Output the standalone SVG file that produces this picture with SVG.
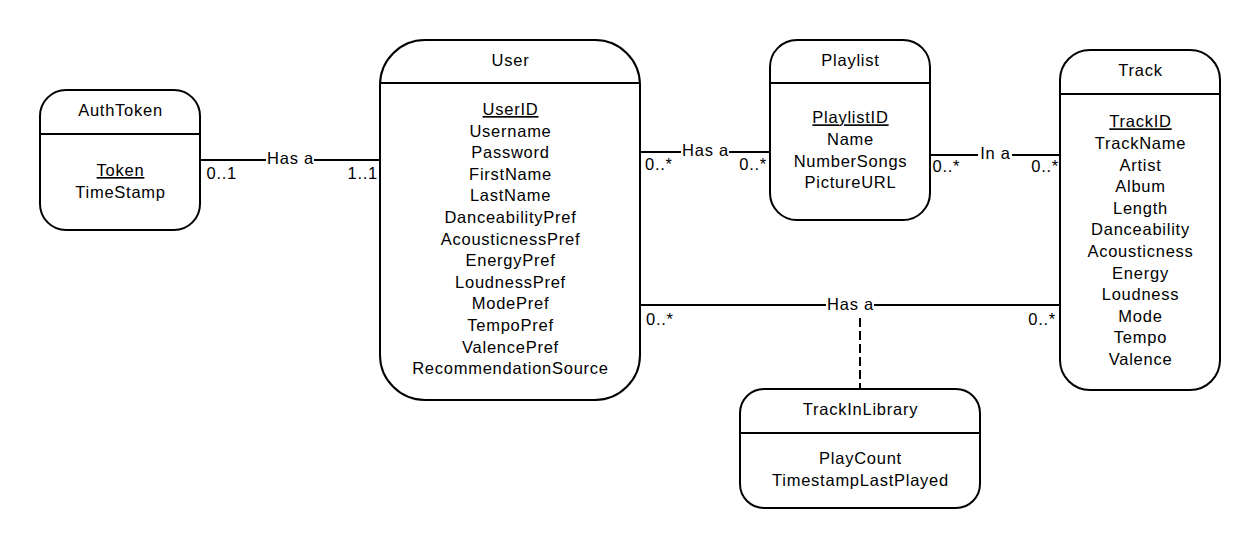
<svg xmlns="http://www.w3.org/2000/svg" width="1260" height="549" viewBox="0 0 1260 549">
<style>
.box{fill:#fff;stroke:#000;stroke-width:2}
.div{stroke:#000;stroke-width:2}
.ln{stroke:#000;stroke-width:2;fill:none}
.dash{stroke:#000;stroke-width:2;fill:none;stroke-dasharray:9 4}
text{font-family:"Liberation Sans",Arial,sans-serif;font-size:16.5px;letter-spacing:0.75px;fill:#000}
.c{text-anchor:middle}
.e{text-anchor:end}
.pk{text-decoration:underline}
.bg{fill:#fff}
</style>
<rect width="1260" height="549" fill="#fff"/>
<g id="connectors">
<line class="ln" x1="200" y1="160" x2="380" y2="160"/>
<rect class="bg" x="266" y="149" width="48" height="20"/>
<text class="c" x="290.5" y="163.5">Has a</text>
<text x="206.5" y="179">0..1</text>
<text class="e" x="378" y="179">1..1</text>

<line class="ln" x1="640" y1="152" x2="770" y2="152"/>
<rect class="bg" x="681" y="141" width="48" height="20"/>
<text class="c" x="705.5" y="155.5">Has a</text>
<text x="645" y="170">0..*</text>
<text class="e" x="767" y="170">0..*</text>

<line class="ln" x1="930" y1="155" x2="1060" y2="155"/>
<rect class="bg" x="978" y="144" width="34" height="20"/>
<text class="c" x="995.5" y="158.5">In a</text>
<text x="932.5" y="171.5">0..*</text>
<text class="e" x="1059" y="171.5">0..*</text>

<line class="ln" x1="640" y1="305" x2="1060" y2="305"/>
<rect class="bg" x="826" y="294" width="48" height="20"/>
<text class="c" x="850.5" y="309.5">Has a</text>
<text x="646" y="325">0..*</text>
<text class="e" x="1056" y="325">0..*</text>

<line class="dash" x1="860" y1="318" x2="860" y2="389"/>
</g>

<g id="AuthToken">
<rect class="box" x="40" y="90" width="160" height="140" rx="26" ry="26"/>
<line class="div" x1="40" y1="134" x2="200" y2="134"/>
<text class="c" x="120.5" y="116">AuthToken</text>
<text class="c pk" x="120.5" y="176">Token</text>
<text class="c" x="120.5" y="197.5">TimeStamp</text>
</g>

<g id="User">
<rect class="box" x="380" y="40" width="260" height="360" rx="45" ry="45"/>
<line class="div" x1="380" y1="83" x2="640" y2="83"/>
<text class="c" x="510.5" y="66">User</text>
<text class="c pk" x="510.5" y="115">UserID</text>
<text class="c" x="510.5" y="136.6">Username</text>
<text class="c" x="510.5" y="158.2">Password</text>
<text class="c" x="510.5" y="179.8">FirstName</text>
<text class="c" x="510.5" y="201.4">LastName</text>
<text class="c" x="510.5" y="223">DanceabilityPref</text>
<text class="c" x="510.5" y="244.6">AcousticnessPref</text>
<text class="c" x="510.5" y="266.2">EnergyPref</text>
<text class="c" x="510.5" y="287.8">LoudnessPref</text>
<text class="c" x="510.5" y="309.4">ModePref</text>
<text class="c" x="510.5" y="331">TempoPref</text>
<text class="c" x="510.5" y="352.6">ValencePref</text>
<text class="c" x="510.5" y="374.2">RecommendationSource</text>
</g>

<g id="Playlist">
<rect class="box" x="770" y="40" width="160" height="180" rx="27" ry="27"/>
<line class="div" x1="770" y1="83" x2="930" y2="83"/>
<text class="c" x="850.5" y="66">Playlist</text>
<text class="c pk" x="850.5" y="123.3">PlaylistID</text>
<text class="c" x="850.5" y="144.9">Name</text>
<text class="c" x="850.5" y="166.5">NumberSongs</text>
<text class="c" x="850.5" y="188.1">PictureURL</text>
</g>

<g id="Track">
<rect class="box" x="1060" y="50" width="160" height="340" rx="30" ry="30"/>
<line class="div" x1="1060" y1="94" x2="1220" y2="94"/>
<text class="c" x="1140.5" y="75.5">Track</text>
<text class="c pk" x="1140.5" y="127.3">TrackID</text>
<text class="c" x="1140.5" y="148.9">TrackName</text>
<text class="c" x="1140.5" y="170.5">Artist</text>
<text class="c" x="1140.5" y="192.1">Album</text>
<text class="c" x="1140.5" y="213.7">Length</text>
<text class="c" x="1140.5" y="235.3">Danceability</text>
<text class="c" x="1140.5" y="256.9">Acousticness</text>
<text class="c" x="1140.5" y="278.5">Energy</text>
<text class="c" x="1140.5" y="300.1">Loudness</text>
<text class="c" x="1140.5" y="321.7">Mode</text>
<text class="c" x="1140.5" y="343.3">Tempo</text>
<text class="c" x="1140.5" y="364.9">Valence</text>
</g>

<g id="TrackInLibrary">
<rect class="box" x="740" y="389" width="240" height="119" rx="24" ry="24"/>
<line class="div" x1="740" y1="433" x2="980" y2="433"/>
<text class="c" x="860.5" y="415">TrackInLibrary</text>
<text class="c" x="860.5" y="464">PlayCount</text>
<text class="c" x="860.5" y="485.5">TimestampLastPlayed</text>
</g>
</svg>
